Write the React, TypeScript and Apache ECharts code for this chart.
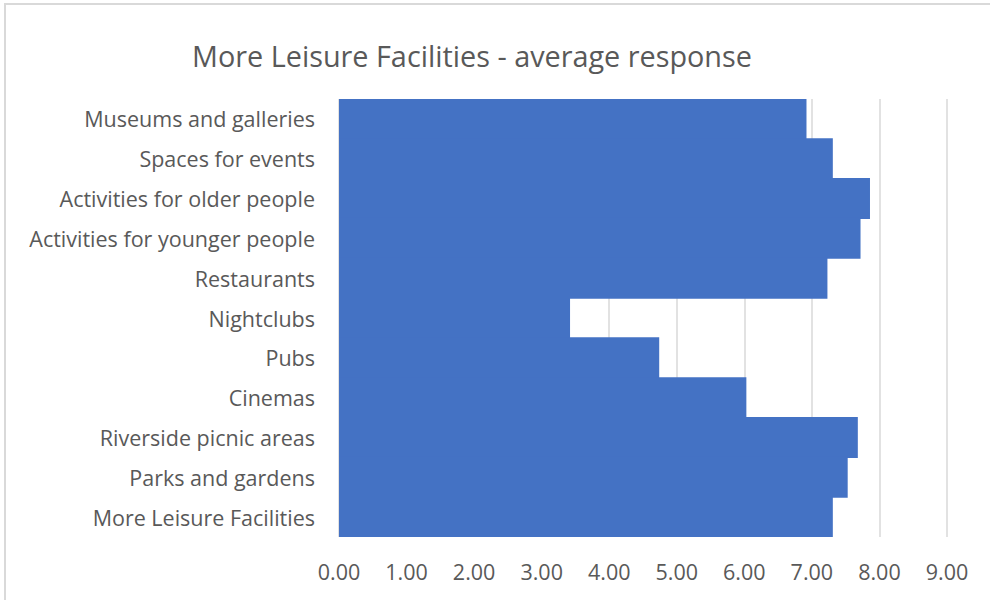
import React, { useEffect, useRef } from "react";
import * as echarts from "echarts";

const categories = [
  "Museums and galleries",
  "Spaces for events",
  "Activities for older people",
  "Activities for younger people",
  "Restaurants",
  "Nightclubs",
  "Pubs",
  "Cinemas",
  "Riverside picnic areas",
  "Parks and gardens",
  "More Leisure Facilities",
];
const values = [6.92, 7.31, 7.86, 7.72, 7.23, 3.42, 4.74, 6.03, 7.68, 7.53, 7.31];
const titleText = "More Leisure Facilities - average response";
const FONT = "Open Sans";

export default function App() {
  const ref = useRef<HTMLDivElement>(null);
  useEffect(() => {
    const chart = echarts.init(ref.current!, null, { renderer: "svg" });
    chart.setOption({
      animation: false,
      backgroundColor: "#ffffff",
      title: {
        text: titleText,
        left: 467,
        top: 36,
        textAlign: "center",
        textStyle: { fontFamily: FONT, fontSize: 28.8, fontWeight: "normal", color: "#595959" },
      },
      graphic: [
        {
          type: "rect",
          shape: { x: 5, y: 4, width: 1100, height: 1000 },
          style: { fill: "none", stroke: "#d9d9d9", lineWidth: 2 },
          silent: true,
        },
      ],
      grid: { left: 339, right: 43, top: 99, bottom: 63, containLabel: false },
      xAxis: {
        type: "value",
        min: 0,
        max: 9,
        interval: 1,
        axisLine: { show: false },
        axisTick: { show: false },
        splitLine: { show: true, lineStyle: { color: "#d9d9d9", width: 1.5 } },
        axisLabel: {
          formatter: (v: number) => v.toFixed(2),
          fontFamily: FONT,
          fontSize: 21.5,
          color: "#595959",
          margin: 23,
        },
      },
      yAxis: {
        type: "category",
        data: categories,
        inverse: true,
        axisLine: { show: false },
        axisTick: { show: false },
        axisLabel: { fontFamily: FONT, fontSize: 21.5, color: "#595959", margin: 24 },
      },
      series: [
        {
          type: "bar",
          data: values,
          barWidth: "103%",
          itemStyle: { color: "#4472c4" },
        },
      ],
    });
    return () => chart.dispose();
  }, []);
  return (
    <div
      ref={ref}
      style={{ position: "fixed", left: 0, top: 0, width: 990, height: 600 }}
    />
  );
}
